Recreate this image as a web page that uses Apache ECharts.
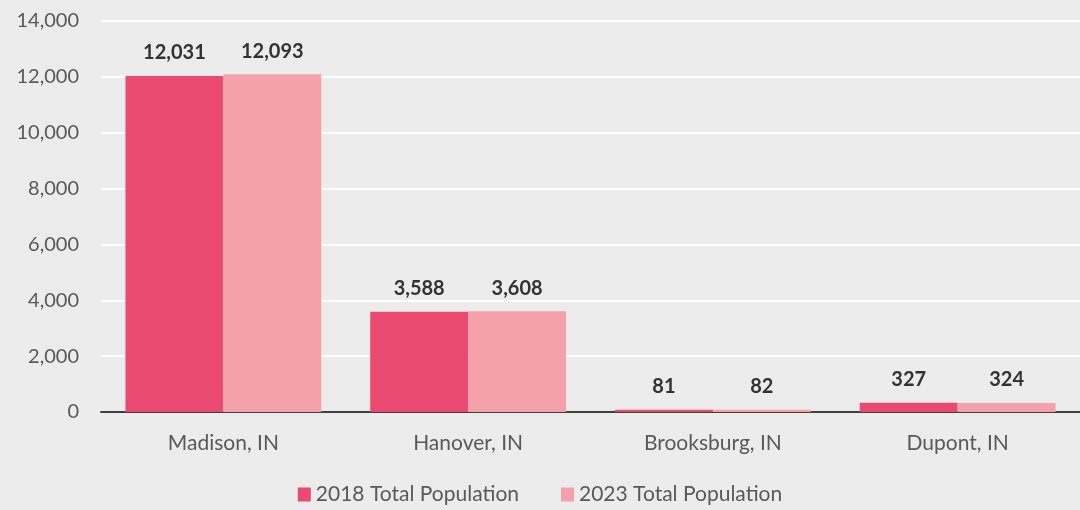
<!DOCTYPE html>
<html>
<head>
<meta charset="utf-8">
<script src="https://cdn.jsdelivr.net/npm/echarts@6/dist/echarts.min.js"></script>
<style>
  html, body { margin: 0; padding: 0; background: #ececec; }
  #chart { width: 1080px; height: 510px; }
</style>
</head>
<body>
<div id="chart"></div>
<script>
var places = ['Madison, IN', 'Hanover, IN', 'Brooksburg, IN', 'Dupont, IN'];
var pop2018 = [12031, 3588, 81, 327];
var pop2023 = [12093, 3608, 82, 324];
var seriesNames = ['2018 Total Population', '2023 Total Population'];

var fontName = 'Lato';
var chart = echarts.init(document.getElementById('chart'));

function barLabel() {
    return {
        show: true,
        position: 'top',
        distance: 13,
        fontFamily: fontName,
        fontWeight: 'bold',
        fontSize: 20,
        color: '#333333',
        formatter: function (p) { return p.value.toLocaleString('en-US'); }
    };
}

chart.setOption({
    backgroundColor: '#ececec',
    animation: false,
    grid: { left: 101, right: 0, top: 21, bottom: 98 },
    legend: {
        bottom: 0,
        left: 'center',
        itemWidth: 13,
        itemHeight: 14,
        itemGap: 42,
        icon: 'rect',
        textStyle: { fontFamily: fontName, fontSize: 21, color: '#595959' },
        data: seriesNames
    },
    xAxis: {
        type: 'category',
        data: places,
        axisLine: { lineStyle: { color: '#404040', width: 2 } },
        axisTick: { show: false },
        axisLabel: { fontFamily: fontName, fontSize: 21, color: '#595959', margin: 21 }
    },
    yAxis: {
        type: 'value',
        min: 0,
        max: 14000,
        interval: 2000,
        axisLine: { show: false },
        axisTick: { show: false },
        splitLine: { lineStyle: { color: '#ffffff', width: 2 } },
        axisLabel: {
            fontFamily: fontName, fontSize: 20, color: '#595959', margin: 22,
            formatter: function (v) { return v.toLocaleString('en-US'); }
        }
    },
    series: [{
        name: seriesNames[0],
        type: 'bar',
        data: pop2018,
        barGap: '0%',
        barCategoryGap: '20%',
        itemStyle: { color: '#ea4a6f' },
        label: barLabel()
    }, {
        name: seriesNames[1],
        type: 'bar',
        data: pop2023,
        itemStyle: { color: '#f4a1a9' },
        label: barLabel()
    }]
});
window.addEventListener('resize', function () {
    chart.resize();
});
</script>
</body>
</html>
